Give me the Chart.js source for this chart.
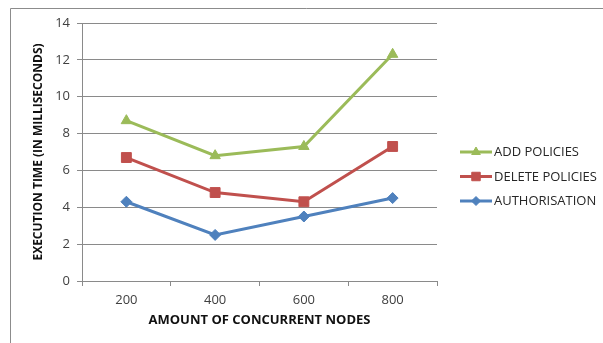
<!DOCTYPE html>
<html>
<head>
<meta charset="utf-8">
<script src="https://cdn.jsdelivr.net/npm/chart.js@4/dist/chart.umd.min.js"></script>
<style>
  html, body { margin: 0; padding: 0; background: #ffffff; }
  #wrap { width: 603px; height: 343px; position: relative; }
</style>
</head>
<body>
<div id="wrap"><canvas id="c" width="603" height="343"></canvas></div>
<script>
// Execution time per number of concurrent nodes
const nodeCounts = ['200', '400', '600', '800'];
const addPolicies = [8.7, 6.8, 7.3, 12.3];
const deletePolicies = [6.7, 4.8, 4.3, 7.3];
const authorisation = [4.3, 2.5, 3.5, 4.5];
const yTicks = [0, 2, 4, 6, 8, 10, 12, 14];

const seriesNames = ['ADD POLICIES', 'DELETE POLICIES', 'AUTHORISATION'];
const seriesColors = ['#9BBB59', '#C0504D', '#4F81BD'];
const seriesMarkers = ['triangle', 'rect', 'rectRot'];
const markerSizes = [6, 7, 5.5];
const legendMarkerSizes = [5, 6, 4.5];

const FONT = '"Open Sans", "Liberation Sans", sans-serif';
const GRID = '#8a8a8a';

function makeSet(i, data) {
  return {
    label: seriesNames[i],
    data: data,
    borderColor: seriesColors[i],
    backgroundColor: seriesColors[i],
    borderWidth: 3,
    pointStyle: seriesMarkers[i],
    pointRadius: markerSizes[i],
    pointHoverRadius: markerSizes[i],
    pointBorderWidth: 1,
    pointBackgroundColor: seriesColors[i],
    pointBorderColor: seriesColors[i],
    tension: 0,
    fill: false
  };
}

// Outer frame lines (top and left edges)
const framePlugin = {
  id: 'frame',
  beforeDraw(chart) {
    const ctx = chart.ctx;
    ctx.save();
    ctx.fillStyle = '#ffffff';
    ctx.fillRect(0, 0, chart.width, chart.height);
    ctx.strokeStyle = '#8c8c8c';
    ctx.lineWidth = 1;
    ctx.beginPath();
    ctx.moveTo(10.5, chart.height);
    ctx.lineTo(10.5, 8.5);
    ctx.lineTo(chart.width, 8.5);
    ctx.stroke();
    ctx.restore();
  }
};

// Legend on the right: line segment + marker + name
const sideLegend = {
  id: 'sideLegend',
  afterDraw(chart) {
    const ctx = chart.ctx;
    const x0 = 460, x1 = 492, tx = 494;
    const ys = [152, 176.5, 201];
    ctx.save();
    chart.data.datasets.forEach((ds, k) => {
      const y = ys[k];
      ctx.strokeStyle = ds.borderColor;
      ctx.lineWidth = 3;
      ctx.beginPath();
      ctx.moveTo(x0, y);
      ctx.lineTo(x1, y);
      ctx.stroke();
      ctx.fillStyle = ds.backgroundColor;
      ctx.strokeStyle = ds.borderColor;
      ctx.lineWidth = 1;
      Chart.helpers.drawPoint(ctx, { pointStyle: ds.pointStyle, radius: legendMarkerSizes[k], borderWidth: 1, rotation: 0 }, (x0 + x1) / 2, y);
      ctx.fillStyle = '#262626';
      ctx.font = '13px ' + FONT;
      ctx.textBaseline = 'middle';
      ctx.textAlign = 'left';
      ctx.fillText(ds.label, tx, y + 0.5);
    });
    ctx.restore();
  }
};

new Chart(document.getElementById('c'), {
  type: 'line',
  data: {
    labels: nodeCounts,
    datasets: [
      makeSet(0, addPolicies),
      makeSet(1, deletePolicies),
      makeSet(2, authorisation)
    ]
  },
  options: {
    responsive: false,
    animation: false,
    layout: { padding: { left: 31, top: 23, right: 166, bottom: 10 } },
    plugins: {
      legend: { display: false },
      tooltip: { enabled: false }
    },
    scales: {
      x: {
        type: 'category',
        offset: true,
        afterFit(scale) { scale.height = 52; },
        grid: {
          display: true,
          offset: true,
          drawOnChartArea: false,
          drawTicks: true,
          tickLength: 5,
          color: GRID
        },
        border: { display: true, color: GRID, width: 1 },
        ticks: {
          color: '#404040',
          font: { family: FONT, size: 13 },
          padding: 6,
          maxRotation: 0
        },
        title: {
          display: true,
          text: 'AMOUNT OF CONCURRENT NODES',
          color: '#111111',
          font: { family: FONT, size: 13, weight: 'bold' },
          padding: { top: 0, bottom: 5 }
        }
      },
      y: {
        min: 0,
        max: 14,
        afterFit(scale) { scale.width = 51; },
        afterBuildTicks(scale) { scale.ticks = yTicks.map(v => ({ value: v })); },
        grid: {
          color: GRID,
          drawTicks: true,
          tickLength: 5,
          lineWidth: 1
        },
        border: { display: true, color: GRID, width: 1 },
        ticks: {
          color: '#404040',
          font: { family: FONT, size: 13 },
          padding: 7
        },
        title: {
          display: true,
          text: 'EXECUTION TIME (IN MILLISECONDS)',
          color: '#111111',
          font: { family: FONT, size: 12, weight: 'bold' },
          padding: { top: 0, bottom: 0 }
        }
      }
    }
  },
  plugins: [framePlugin, sideLegend]
});
</script>
</body>
</html>
